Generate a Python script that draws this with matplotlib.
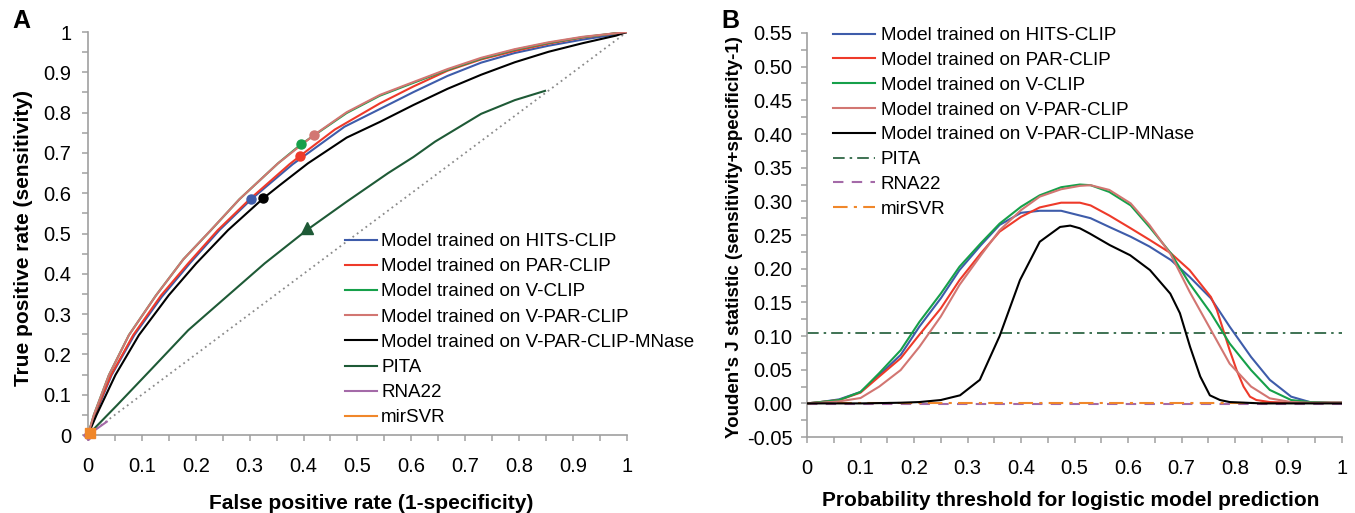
import matplotlib
matplotlib.use("Agg")
import matplotlib.pyplot as plt
from matplotlib.ticker import MultipleLocator, FixedLocator, FixedFormatter

plt.rcParams['font.family'] = ['Liberation Sans', 'DejaVu Sans']

# ---------------- Panel A: ROC curves ----------------
hits_fpr = [0, 0.013, 0.044, 0.086, 0.137, 0.189, 0.244, 0.303, 0.356, 0.380, 0.476, 0.5417, 0.604, 0.667,
            0.7295, 0.792, 0.8546, 0.917, 0.9796, 1.0]
hits_tpr = [0, 0.05, 0.149, 0.248, 0.343, 0.426, 0.5085, 0.585, 0.645, 0.672, 0.765, 0.809, 0.851, 0.891,
            0.924, 0.948, 0.966, 0.981, 0.994, 1.0]

par_fpr = [0, 0.012, 0.043, 0.084, 0.136, 0.186, 0.241, 0.300, 0.374, 0.393, 0.458, 0.5417, 0.604, 0.667,
           0.7295, 0.792, 0.8546, 0.917, 0.9796, 1.0]
par_tpr = [0, 0.05, 0.149, 0.248, 0.347, 0.426, 0.5085, 0.585, 0.672, 0.692, 0.758, 0.823, 0.865, 0.904,
           0.932, 0.953, 0.971, 0.986, 0.997, 1.0]

vclip_fpr = [0, 0.011, 0.039, 0.076, 0.126, 0.177, 0.228, 0.281, 0.3525, 0.395, 0.48, 0.5417, 0.604, 0.667,
             0.7295, 0.792, 0.8546, 0.917, 0.9796, 1.0]
vclip_tpr = [0, 0.05, 0.149, 0.248, 0.346, 0.436, 0.508, 0.585, 0.674, 0.721, 0.799, 0.842, 0.874, 0.906,
             0.934, 0.956, 0.973, 0.987, 0.997, 1.0]

vpar_fpr = [0, 0.011, 0.039, 0.076, 0.126, 0.177, 0.228, 0.281, 0.3525, 0.42, 0.48, 0.5417, 0.604, 0.667,
            0.7295, 0.792, 0.8546, 0.917, 0.9796, 1.0]
vpar_tpr = [0, 0.05, 0.149, 0.248, 0.346, 0.436, 0.5085, 0.585, 0.674, 0.745, 0.801, 0.844, 0.876, 0.908,
            0.936, 0.9575, 0.9745, 0.988, 0.997, 1.0]

mnase_fpr = [0, 0.016, 0.051, 0.0946, 0.150, 0.201, 0.260, 0.325, 0.356, 0.408, 0.48, 0.5417, 0.604, 0.667,
             0.7295, 0.792, 0.8546, 0.917, 0.9796, 1.0]
mnase_tpr = [0, 0.05, 0.149, 0.248, 0.347, 0.426, 0.5085, 0.587, 0.620, 0.674, 0.738, 0.777, 0.819, 0.859,
             0.894, 0.925, 0.951, 0.972, 0.991, 1.0]

pita_fpr = [0, 0.054, 0.116, 0.186, 0.215, 0.328, 0.406, 0.48, 0.557, 0.604, 0.644, 0.7295, 0.792, 0.848]
pita_tpr = [0, 0.074, 0.161, 0.26, 0.294, 0.426, 0.5085, 0.579, 0.65, 0.69, 0.728, 0.797, 0.831, 0.854]

rna22_fpr = [0, 0.035]
rna22_tpr = [0, 0.033]

mirsvr_fpr = [0, 0.003]
mirsvr_tpr = [0, 0.004]

# operating points (markers)
hits_pt = (0.303, 0.585)
par_pt = (0.393, 0.692)
vclip_pt = (0.395, 0.721)
vpar_pt = (0.42, 0.745)
mnase_pt = (0.325, 0.587)
pita_pt = (0.406, 0.513)
rna22_pt = (0.0, 0.0)
mirsvr_pt = (0.003, 0.004)

# ---------------- Panel B: Youden's J ----------------
hits_thr = [0, 0.025, 0.06, 0.10, 0.135, 0.175, 0.21, 0.25, 0.285, 0.325, 0.36, 0.40, 0.435, 0.475, 0.51,
            0.53, 0.565, 0.605, 0.64, 0.68, 0.715, 0.755, 0.79, 0.83, 0.865, 0.905, 0.94, 0.98, 1.0]
hits_j = [0, 0.002, 0.006, 0.017, 0.042, 0.072, 0.114, 0.156, 0.198, 0.235, 0.265, 0.283, 0.286, 0.286, 0.279,
          0.275, 0.262, 0.2475, 0.233, 0.213, 0.188, 0.156, 0.114, 0.069, 0.035, 0.010, 0.002, 0.001, 0.001]

par_thr = [0, 0.025, 0.06, 0.10, 0.135, 0.175, 0.21, 0.25, 0.285, 0.325, 0.36, 0.40, 0.435, 0.475, 0.51,
           0.53, 0.565, 0.605, 0.64, 0.68, 0.715, 0.755, 0.766, 0.778, 0.79, 0.803, 0.816, 0.828, 0.84,
           0.865, 0.905, 0.94, 0.98, 1.0]
par_j = [0, 0.002, 0.005, 0.016, 0.040, 0.067, 0.102, 0.141, 0.183, 0.223, 0.255, 0.277, 0.291, 0.298, 0.298,
         0.294, 0.279, 0.260, 0.243, 0.223, 0.198, 0.158, 0.139, 0.109, 0.079, 0.0495, 0.025, 0.010, 0.005,
         0.002, 0.001, 0.001, 0.001, 0.001]

vclip_thr = [0, 0.025, 0.06, 0.10, 0.135, 0.175, 0.21, 0.25, 0.285, 0.325, 0.36, 0.40, 0.435, 0.475, 0.51,
             0.53, 0.565, 0.605, 0.64, 0.68, 0.715, 0.755, 0.79, 0.83, 0.865, 0.905, 0.94, 0.98, 1.0]
vclip_j = [0, 0.002, 0.005, 0.017, 0.045, 0.079, 0.121, 0.163, 0.203, 0.238, 0.267, 0.292, 0.309, 0.321, 0.325,
           0.324, 0.314, 0.294, 0.262, 0.223, 0.178, 0.134, 0.089, 0.0495, 0.020, 0.005, 0.002, 0.001, 0.001]

vpar_thr = [0, 0.025, 0.06, 0.10, 0.135, 0.175, 0.21, 0.25, 0.285, 0.325, 0.36, 0.40, 0.435, 0.475, 0.51,
            0.53, 0.565, 0.605, 0.64, 0.68, 0.715, 0.755, 0.79, 0.83, 0.865, 0.905, 0.94, 0.98, 1.0]
vpar_j = [0, 0.001, 0.003, 0.008, 0.025, 0.0495, 0.084, 0.129, 0.176, 0.220, 0.257, 0.287, 0.307, 0.318, 0.323,
          0.324, 0.317, 0.297, 0.265, 0.221, 0.166, 0.109, 0.059, 0.025, 0.0075, 0.002, 0.001, 0.001, 0.001]

mnase_thr = [0, 0.10, 0.175, 0.21, 0.25, 0.286, 0.323, 0.36, 0.398, 0.435, 0.473, 0.492, 0.51, 0.529, 0.566,
             0.604, 0.641, 0.679, 0.697, 0.716, 0.735, 0.753, 0.772, 0.79, 0.85, 1.0]
mnase_j = [0, 0.0, 0.001, 0.002, 0.005, 0.012, 0.035, 0.100, 0.183, 0.240, 0.262, 0.264, 0.260, 0.252, 0.235,
           0.220, 0.198, 0.163, 0.134, 0.084, 0.040, 0.012, 0.005, 0.002, 0.0, 0.0]

pita_j = 0.105
rna22_j = -0.001
mirsvr_j = 0.001

labels = ["Model trained on HITS-CLIP", "Model trained on PAR-CLIP", "Model trained on V-CLIP",
          "Model trained on V-PAR-CLIP", "Model trained on V-PAR-CLIP-MNase", "PITA", "RNA22", "mirSVR"]

c_hits = "#3E5CAA"
c_par = "#EE3A2A"
c_vclip = "#16A04A"
c_vpar = "#D27672"
c_mnase = "#000000"
c_pita = "#1E5A36"
c_rna = "#A46AA8"
c_mir = "#F0872A"
spine_c = "#A0A0A0"

fig = plt.figure(figsize=(13.55, 5.13), dpi=100)
axA = fig.add_axes([0.0649, 0.152, 0.3978, 0.7856])
axB = fig.add_axes([0.5956, 0.148, 0.3948, 0.7877])

lw = 1.5
# diagonal
axA.plot([0, 1], [0, 1], color="#8A8A8A", lw=1.3, linestyle=(0, (1, 2)), zorder=1)

lA = []
lA += axA.plot(hits_fpr, hits_tpr, color=c_hits, lw=lw, zorder=3)
lA += axA.plot(par_fpr, par_tpr, color=c_par, lw=lw, zorder=3)
lA += axA.plot(vclip_fpr, vclip_tpr, color=c_vclip, lw=lw, zorder=3)
lA += axA.plot(vpar_fpr, vpar_tpr, color=c_vpar, lw=lw, zorder=4)
lA += axA.plot(mnase_fpr, mnase_tpr, color=c_mnase, lw=lw, zorder=3)
lA += axA.plot(pita_fpr, pita_tpr, color=c_pita, lw=lw, zorder=3)
lA += axA.plot(rna22_fpr, rna22_tpr, color=c_rna, lw=lw, zorder=3)
lA += axA.plot(mirsvr_fpr, mirsvr_tpr, color=c_mir, lw=lw, zorder=3)

ms = 6.5
axA.plot(*hits_pt, 'o', color=c_hits, ms=ms, zorder=5)
axA.plot(*par_pt, 'o', color=c_par, ms=ms, zorder=5)
axA.plot(*vclip_pt, 'o', color=c_vclip, ms=ms, zorder=5)
axA.plot(*vpar_pt, 'o', color=c_vpar, ms=ms, zorder=5)
axA.plot(*mnase_pt, 'o', color=c_mnase, ms=ms, zorder=5)
axA.plot(*pita_pt, '^', color=c_pita, ms=8, zorder=5)
axA.plot(*rna22_pt, 'D', color=c_rna, ms=5, zorder=5, clip_on=False)
axA.plot(*mirsvr_pt, 's', color=c_mir, ms=7.5, zorder=6, clip_on=False)

axA.set_xlim(0, 1)
axA.set_ylim(0, 1)

tick_vals = [0, 0.1, 0.2, 0.3, 0.4, 0.5, 0.6, 0.7, 0.8, 0.9, 1.0]
tick_txt = ["0", "0.1", "0.2", "0.3", "0.4", "0.5", "0.6", "0.7", "0.8", "0.9", "1"]
axA.xaxis.set_major_locator(FixedLocator(tick_vals))
axA.xaxis.set_major_formatter(FixedFormatter(tick_txt))
axA.yaxis.set_major_locator(FixedLocator(tick_vals))
axA.yaxis.set_major_formatter(FixedFormatter(tick_txt))
axA.xaxis.set_minor_locator(MultipleLocator(0.05))
axA.yaxis.set_minor_locator(MultipleLocator(0.05))

axB.axhline(pita_j, color=c_pita, lw=1.2, linestyle=(0, (7, 3, 1.5, 3)), zorder=2)
lB = []
lB += axB.plot(hits_thr, hits_j, color=c_hits, lw=lw, zorder=3)
lB += axB.plot(par_thr, par_j, color=c_par, lw=lw, zorder=3)
lB += axB.plot(vclip_thr, vclip_j, color=c_vclip, lw=lw, zorder=3)
lB += axB.plot(vpar_thr, vpar_j, color=c_vpar, lw=lw, zorder=3)
lB += axB.plot(mnase_thr, mnase_j, color=c_mnase, lw=lw, zorder=4)
lB += axB.plot([], [], color=c_pita, lw=1.2, linestyle=(0, (7, 3, 1.5, 3)))
lB += axB.plot([0, 1], [rna22_j, rna22_j], color=c_rna, lw=1.5, linestyle=(0, (5, 4)), zorder=2)
lB += axB.plot([0, 1], [mirsvr_j, mirsvr_j], color=c_mir, lw=1.5, linestyle=(0, (7, 3, 1.5, 3)), zorder=2)

axB.set_xlim(0, 1)
axB.set_ylim(-0.05, 0.55)
axB.xaxis.set_major_locator(FixedLocator(tick_vals))
axB.xaxis.set_major_formatter(FixedFormatter(tick_txt))
yB = [-0.05 + 0.05 * i for i in range(13)]
axB.yaxis.set_major_locator(FixedLocator(yB))
axB.yaxis.set_major_formatter(FixedFormatter([f"{v:.2f}" if abs(v) > 1e-9 else "0.00" for v in yB]))
axB.xaxis.set_minor_locator(MultipleLocator(0.05))
axB.yaxis.set_minor_locator(MultipleLocator(0.025))

for ax in (axA, axB):
    for s in ("top", "right"):
        ax.spines[s].set_visible(False)
    for s in ("left", "bottom"):
        ax.spines[s].set_color(spine_c)
        ax.spines[s].set_linewidth(1.2)
    ax.tick_params(which="both", direction="out", length=4, width=1.1, color=spine_c,
                   labelsize=14.5, labelcolor="black")
    ax.tick_params(axis="x", which="major", pad=11.5)

axA.tick_params(axis="y", which="major", pad=8)
axB.tick_params(axis="y", which="major", pad=6.5)

axA.set_xlabel("False positive rate (1-specificity)", fontsize=15, fontweight="bold")
axA.set_ylabel("True positive rate (sensitivity)", fontsize=15, fontweight="bold")
axB.set_xlabel("Probability threshold for logistic model prediction", fontsize=15, fontweight="bold")
axB.set_ylabel("Youden's J statistic (sensitivity+specificity-1)", fontsize=13.5, fontweight="bold")
axA.xaxis.set_label_coords(0.525, -0.146)
axB.xaxis.set_label_coords(0.4937, -0.134)
axA.yaxis.set_label_coords(-0.102, 0.49)
axB.yaxis.set_label_coords(-0.12, 0.494)

legA = fig.legend(lA, labels, loc="upper left", bbox_to_anchor=(344.5 / 1355, 1 - 233 / 513),
                  frameon=False, fontsize=13.5, handlelength=1.73, handletextpad=0.23,
                  labelspacing=0.43, borderpad=0, borderaxespad=0)
legB = fig.legend(lB, labels, loc="upper left", bbox_to_anchor=(832.7 / 1355, 1 - 27 / 513),
                  frameon=False, fontsize=13.5, handlelength=2.28, handletextpad=0.29,
                  labelspacing=0.41, borderpad=0, borderaxespad=0)

fig.text(12 / 1355, 1 - 28 / 513, "A", fontsize=18, fontweight="bold", va="baseline", ha="left")
fig.text(721 / 1355, 1 - 28 / 513, "B", fontsize=18, fontweight="bold", va="baseline", ha="left")

fig.savefig("out.png", dpi=100)
